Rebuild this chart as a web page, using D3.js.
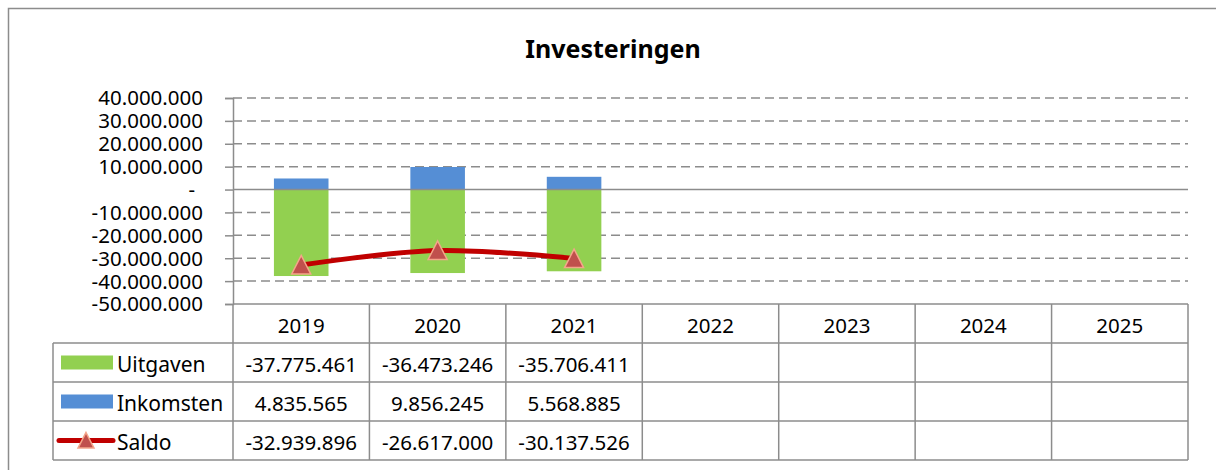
<!DOCTYPE html>
<html>
<head>
<meta charset="utf-8">
<script src="https://cdn.jsdelivr.net/npm/d3@7"></script>
<style>
  html, body { margin: 0; padding: 0; background: #fff; }
  svg { display: block; font-family: "Noto Sans", sans-serif; }
</style>
</head>
<body>
<svg id="chart" width="1216" height="470"></svg>
<script>
// Investment figures per year (euro)
const years = ["2019", "2020", "2021", "2022", "2023", "2024", "2025"];
const uitgaven = [-37775461, -36473246, -35706411];
const inkomsten = [4835565, 9856245, 5568885];
const saldo = [-32939896, -26617000, -30137526];
const yTicks = [40000000, 30000000, 20000000, 10000000, 0, -10000000, -20000000, -30000000, -40000000, -50000000];
const seriesNames = ["Uitgaven", "Inkomsten", "Saldo"];

const colors = {
  uitgaven: "#92D050",
  inkomsten: "#558ED5",
  line: "#C00000",
  marker: "#C0504D",
  markerEdge: "#F4A58A",
  grid: "#8C8C8C",
  text: "#000"
};

const nl = d3.formatLocale({ decimal: ",", thousands: ".", grouping: [3], currency: ["€", ""] });
const fmt = nl.format(",d");
const fmtVal = v => v === 0 ? "-" : fmt(v).replace("−", "-");

const svg = d3.select("#chart");

// outer frame
svg.append("path")
  .attr("d", "M8.5,470 L8.5,8.5 L1216,8.5")
  .attr("fill", "none").attr("stroke", colors.grid).attr("stroke-width", 1.5);

// title
svg.append("text")
  .attr("x", 613).attr("y", 48)
  .attr("text-anchor", "middle").attr("dominant-baseline", "central")
  .attr("font-size", 25).attr("font-weight", "bold")
  .text("Investeringen");

const plot = { left: 233, right: 1188, top: 98, bottom: 304 };
const table = { legendLeft: 53, rows: [304, 343, 382, 421, 460] };

const x = d3.scaleBand().domain(years).range([plot.left, plot.right]).padding(0);
const y = d3.scaleLinear().domain([-50000000, 40000000]).range([plot.bottom, plot.top]);

// gridlines
const gridG = svg.append("g");
gridG.selectAll("line.grid")
  .data(yTicks.filter(t => t !== 0 && t !== -50000000))
  .join("line")
  .attr("x1", plot.left).attr("x2", plot.right)
  .attr("y1", d => y(d)).attr("y2", d => y(d))
  .attr("stroke", colors.grid).attr("stroke-width", 1.5)
  .attr("stroke-dasharray", "9,5");

// y axis with tick marks
const yAxis = d3.axisLeft(y).tickValues(yTicks).tickSize(8).tickPadding(22)
  .tickFormat(fmtVal);
const yG = svg.append("g").attr("transform", `translate(${plot.left},0)`).call(yAxis);
yG.select(".domain").attr("stroke", colors.grid).attr("stroke-width", 1.5);
yG.selectAll(".tick line").attr("stroke", colors.grid).attr("stroke-width", 1.5);
yG.selectAll(".tick text")
  .attr("font-size", 20.5).attr("fill", colors.text)
  .attr("font-family", "Noto Sans, sans-serif")
  .attr("dy", "0.34em")
  .attr("dx", d => d === 0 ? -8 : 0);

// bars: expenses below zero, income above
const barW = x.bandwidth() * 0.4;
const barX = i => x(years[i]) + (x.bandwidth() - barW) / 2;
svg.append("g").selectAll("rect")
  .data(uitgaven)
  .join("rect")
  .attr("x", (d, i) => barX(i)).attr("width", barW)
  .attr("y", y(0)).attr("height", d => y(d) - y(0))
  .attr("fill", colors.uitgaven);
svg.append("g").selectAll("rect")
  .data(inkomsten)
  .join("rect")
  .attr("x", (d, i) => barX(i)).attr("width", barW)
  .attr("y", d => y(d)).attr("height", d => y(0) - y(d))
  .attr("fill", colors.inkomsten);

// zero line
svg.append("line")
  .attr("x1", plot.left).attr("x2", plot.right)
  .attr("y1", y(0)).attr("y2", y(0))
  .attr("stroke", colors.grid).attr("stroke-width", 1.5);

// saldo line (smoothed)
const cx = i => x(years[i]) + x.bandwidth() / 2;
const line = d3.line().x((d, i) => cx(i)).y(d => y(d)).curve(d3.curveCardinal.tension(0));
svg.append("path")
  .datum(saldo)
  .attr("d", line)
  .attr("fill", "none").attr("stroke", colors.line).attr("stroke-width", 5)
  .attr("stroke-linecap", "round");

const triPath = (s) => `M0,${-s} L${s},${s * 0.95} L${-s},${s * 0.95} Z`;
svg.append("g").selectAll("path")
  .data(saldo)
  .join("path")
  .attr("transform", (d, i) => `translate(${cx(i)},${y(d)})`)
  .attr("d", triPath(9.5))
  .attr("fill", colors.marker).attr("stroke", colors.markerEdge).attr("stroke-width", 1.5);

// data table
const tG = svg.append("g");
const stroke = { stroke: colors.grid, "stroke-width": 1.5 };
function hline(x1, x2, yy) {
  const l = tG.append("line").attr("x1", x1).attr("x2", x2).attr("y1", yy).attr("y2", yy);
  Object.entries(stroke).forEach(([k, v]) => l.attr(k, v));
}
function vline(xx, y1, y2) {
  const l = tG.append("line").attr("x1", xx).attr("x2", xx).attr("y1", y1).attr("y2", y2);
  Object.entries(stroke).forEach(([k, v]) => l.attr(k, v));
}
hline(plot.left, plot.right, table.rows[0]);
for (let r = 1; r < table.rows.length; r++) hline(table.legendLeft, plot.right, table.rows[r]);
vline(table.legendLeft, table.rows[1], table.rows[4]);
years.forEach(yr => vline(x(yr), table.rows[0], table.rows[4]));
vline(plot.right, table.rows[0], table.rows[4]);

// year headers
tG.selectAll("text.year")
  .data(years)
  .join("text")
  .attr("x", d => x(d) + x.bandwidth() / 2)
  .attr("y", (table.rows[0] + table.rows[1]) / 2 + 1)
  .attr("text-anchor", "middle").attr("dominant-baseline", "central")
  .attr("font-size", 20.5)
  .text(d => d);

// values per row
const rowData = [uitgaven, inkomsten, saldo];
rowData.forEach((vals, r) => {
  const cy = (table.rows[r + 1] + table.rows[r + 2]) / 2 + 1;
  tG.selectAll(null)
    .data(vals)
    .join("text")
    .attr("x", (d, i) => cx(i))
    .attr("y", cy)
    .attr("text-anchor", "middle").attr("dominant-baseline", "central")
    .attr("font-size", 20.5)
    .text(d => fmtVal(d));

  // legend key + label
  const ky = (table.rows[r + 1] + table.rows[r + 2]) / 2;
  if (r < 2) {
    tG.append("rect")
      .attr("x", 61).attr("y", ky - 7).attr("width", 52).attr("height", 14)
      .attr("fill", r === 0 ? colors.uitgaven : colors.inkomsten);
  } else {
    tG.append("line")
      .attr("x1", 59).attr("x2", 113).attr("y1", ky).attr("y2", ky)
      .attr("stroke", colors.line).attr("stroke-width", 5).attr("stroke-linecap", "round");
    tG.append("path")
      .attr("transform", `translate(86,${ky})`)
      .attr("d", triPath(8))
      .attr("fill", colors.marker).attr("stroke", colors.markerEdge).attr("stroke-width", 1.5);
  }
  tG.append("text")
    .attr("x", 117).attr("y", ky + 1)
    .attr("dominant-baseline", "central")
    .attr("font-size", 21)
    .text(seriesNames[r]);
});
</script>
</body>
</html>
